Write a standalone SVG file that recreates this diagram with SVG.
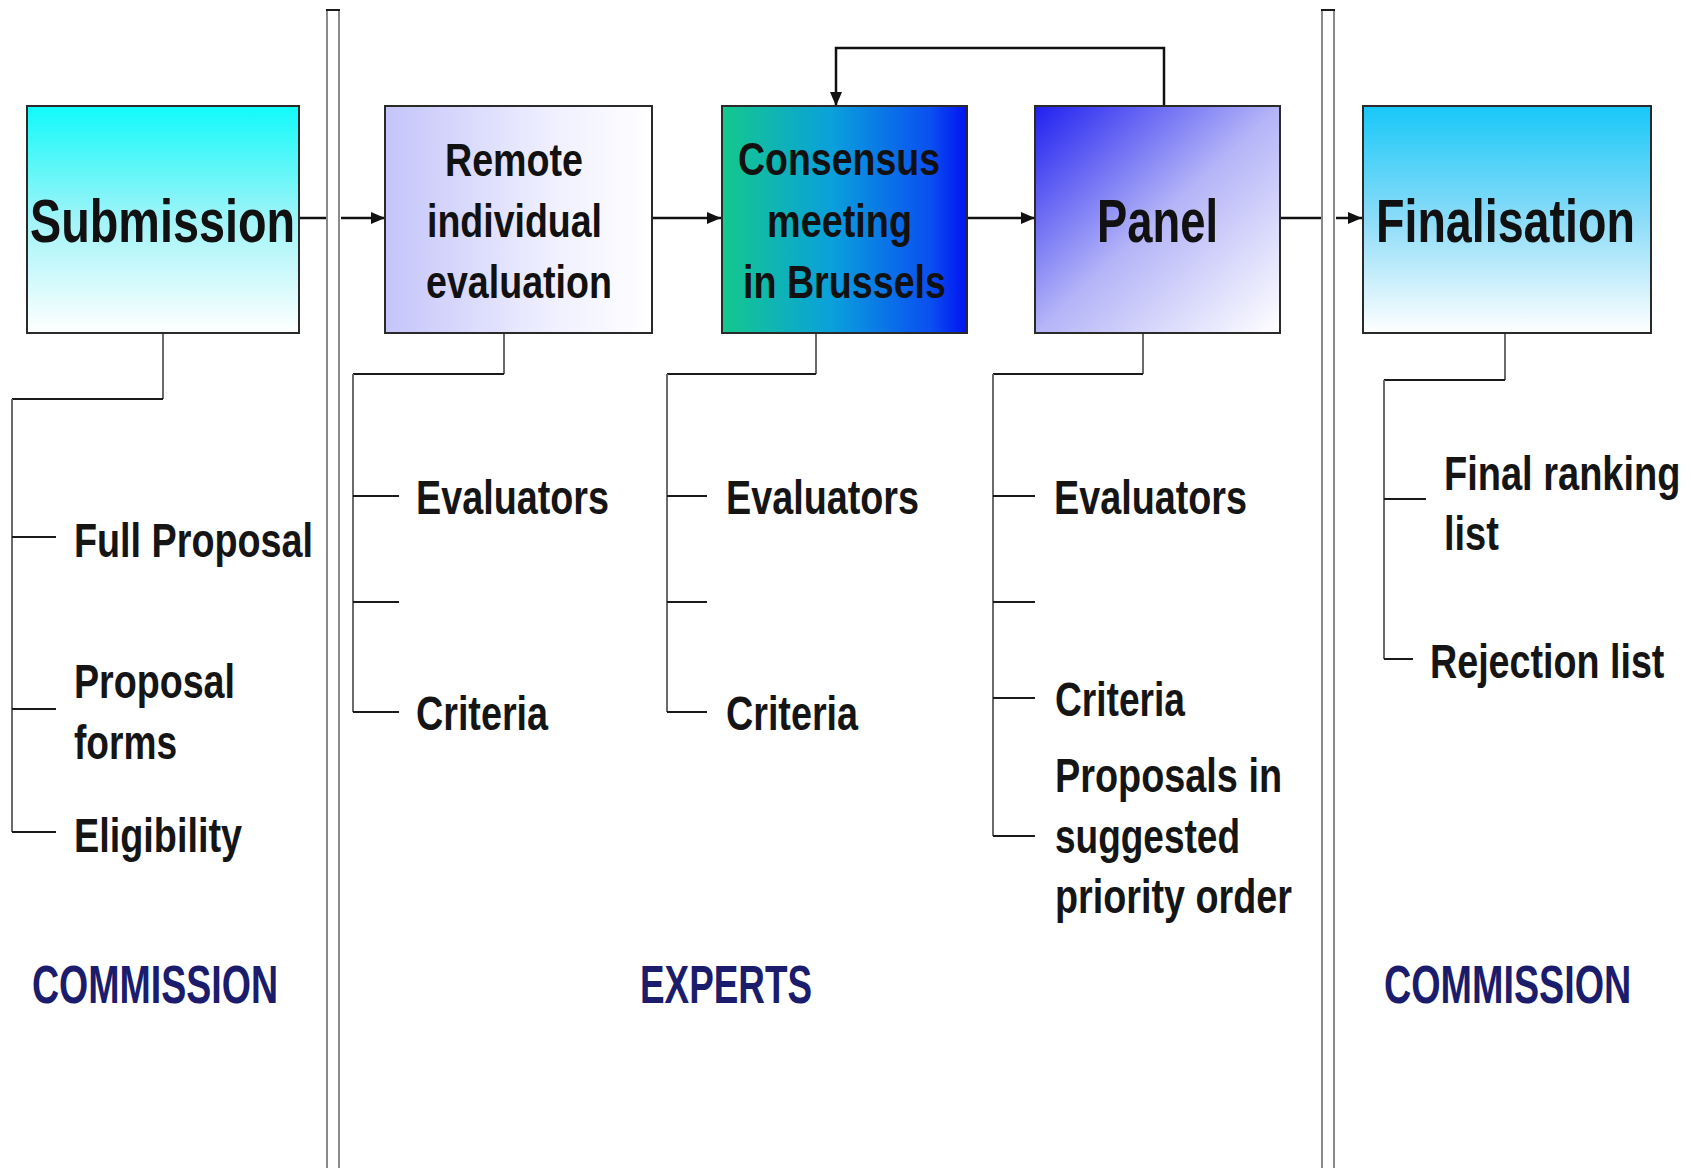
<svg xmlns="http://www.w3.org/2000/svg" width="1691" height="1168" viewBox="0 0 1691 1168">
<style>
.box{stroke:#2a2a2a;stroke-width:2}
.bt{font-family:"Liberation Sans",Arial,sans-serif;font-weight:bold;fill:#111}
.big{font-size:61px}
.mid{font-size:47px}
.it{font-family:"Liberation Sans",Arial,sans-serif;font-weight:bold;font-size:48px;fill:#151515}
.lab{font-family:"Liberation Sans",Arial,sans-serif;font-weight:bold;font-size:53px;fill:#1c1c6c}
.v{stroke:#6a6a6a;stroke-width:2;fill:none}
.h{stroke:#1a1a1a;stroke-width:2;fill:none}
.div{stroke:#8a8a8a;stroke-width:2;fill:none}
.arr{stroke:#111;stroke-width:2.5;fill:none}
</style>
<defs>
<marker id="ah" viewBox="0 0 14 12" refX="14" refY="6" markerWidth="14" markerHeight="12" markerUnits="userSpaceOnUse" orient="auto">
<path d="M0,0 L14,6 L0,12 Z" fill="#111"/>
</marker>
<linearGradient id="gSub" x1="0" y1="0" x2="0" y2="1">
<stop offset="0" stop-color="#10fafa"/><stop offset="0.5" stop-color="#a0f4f8"/><stop offset="1" stop-color="#ffffff"/>
</linearGradient>
<linearGradient id="gFin" x1="0" y1="0" x2="0" y2="1">
<stop offset="0" stop-color="#18c8f8"/><stop offset="0.5" stop-color="#8cdcf8"/><stop offset="1" stop-color="#ffffff"/>
</linearGradient>
<linearGradient id="gRem" x1="0" y1="0" x2="1" y2="0">
<stop offset="0" stop-color="#c4c4fa"/><stop offset="0.6" stop-color="#eeeeff"/><stop offset="1" stop-color="#ffffff"/>
</linearGradient>
<linearGradient id="gCon" x1="0" y1="0" x2="1" y2="0">
<stop offset="0" stop-color="#14c88c"/><stop offset="0.45" stop-color="#0aa0dc"/><stop offset="0.85" stop-color="#0a50f0"/><stop offset="1" stop-color="#0012f0"/>
</linearGradient>
<linearGradient id="gPan" x1="0" y1="0" x2="1" y2="1">
<stop offset="0" stop-color="#2020f0"/><stop offset="0.5" stop-color="#b4b4f8"/><stop offset="1" stop-color="#ffffff"/>
</linearGradient>
</defs>
<rect x="0" y="0" width="1691" height="1168" fill="#ffffff"/>

<g id="dividers">
<path class="div" d="M327,10 V1168 M339,10 V1168"/>
<path class="h" d="M326,10 H340"/>
<path class="div" d="M1322,10 V1168 M1334,10 V1168"/>
<path class="h" d="M1321,10 H1335"/>
</g>

<g id="connectors">
<path class="arr" d="M300,218 H326"/>
<path class="arr" d="M341,218 H385" marker-end="url(#ah)"/>
<path class="arr" d="M652,218 H721" marker-end="url(#ah)"/>
<path class="arr" d="M967,218 H1035" marker-end="url(#ah)"/>
<path class="arr" d="M1280,218 H1321"/>
<path class="arr" d="M1336,218 H1362" marker-end="url(#ah)"/>
<path class="arr" d="M1164,106 V48 H836 V106" marker-end="url(#ah)"/>
<path class="v" d="M163,334 V399"/>
<path class="h" d="M163,399 H12"/>
<path class="v" d="M12,399 V832"/>
<path class="h" d="M12,537 H56 M12,709 H56 M12,832 H56"/>
<path class="v" d="M504,334 V374"/>
<path class="h" d="M504,374 H353"/>
<path class="v" d="M353,374 V712"/>
<path class="h" d="M353,496 H399 M353,602 H399 M353,712 H399"/>
<path class="v" d="M816,334 V374"/>
<path class="h" d="M816,374 H667"/>
<path class="v" d="M667,374 V712"/>
<path class="h" d="M667,496 H707 M667,602 H707 M667,712 H707"/>
<path class="v" d="M1143,334 V374"/>
<path class="h" d="M1143,374 H993"/>
<path class="v" d="M993,374 V836"/>
<path class="h" d="M993,496 H1035 M993,602 H1035 M993,698 H1035 M993,836 H1035"/>
<path class="v" d="M1505,334 V380"/>
<path class="h" d="M1505,380 H1384"/>
<path class="v" d="M1384,380 V659"/>
<path class="h" d="M1384,499 H1426 M1384,659 H1413"/>
</g>

<g id="submission">
<rect class="box" x="27" y="106" width="272" height="227" fill="url(#gSub)"/>
<text class="bt big" x="30" y="242" textLength="265" lengthAdjust="spacingAndGlyphs">Submission</text>
</g>
<g id="remote">
<rect class="box" x="385" y="106" width="267" height="227" fill="url(#gRem)"/>
<text class="bt mid" x="445" y="176" textLength="138" lengthAdjust="spacingAndGlyphs">Remote</text>
<text class="bt mid" x="427" y="237" textLength="175" lengthAdjust="spacingAndGlyphs">individual</text>
<text class="bt mid" x="426" y="298" textLength="186" lengthAdjust="spacingAndGlyphs">evaluation</text>
</g>
<g id="consensus">
<rect class="box" x="722" y="106" width="245" height="227" fill="url(#gCon)"/>
<text class="bt mid" x="738" y="175" textLength="202" lengthAdjust="spacingAndGlyphs">Consensus</text>
<text class="bt mid" x="767" y="237" textLength="145" lengthAdjust="spacingAndGlyphs">meeting</text>
<text class="bt mid" x="743" y="298" textLength="203" lengthAdjust="spacingAndGlyphs">in Brussels</text>
</g>
<g id="panel">
<rect class="box" x="1035" y="106" width="245" height="227" fill="url(#gPan)"/>
<text class="bt big" x="1097" y="242" textLength="121" lengthAdjust="spacingAndGlyphs">Panel</text>
</g>
<g id="finalisation">
<rect class="box" x="1363" y="106" width="288" height="227" fill="url(#gFin)"/>
<text class="bt big" transform="translate(1376,242) scale(0.764,1)" x="0" y="0">Finalisation</text>
</g>

<g id="submission-items">
<text class="it" x="74" y="557" textLength="239" lengthAdjust="spacingAndGlyphs">Full Proposal</text>
<text class="it" x="74" y="698" textLength="161" lengthAdjust="spacingAndGlyphs">Proposal</text>
<text class="it" x="74" y="759" textLength="103" lengthAdjust="spacingAndGlyphs">forms</text>
<text class="it" x="74" y="852" textLength="168" lengthAdjust="spacingAndGlyphs">Eligibility</text>
</g>
<g id="remote-items">
<text class="it" x="416" y="514" textLength="193" lengthAdjust="spacingAndGlyphs">Evaluators</text>
<text class="it" x="416" y="730" textLength="132" lengthAdjust="spacingAndGlyphs">Criteria</text>
</g>
<g id="consensus-items">
<text class="it" x="726" y="514" textLength="193" lengthAdjust="spacingAndGlyphs">Evaluators</text>
<text class="it" x="726" y="730" textLength="132" lengthAdjust="spacingAndGlyphs">Criteria</text>
</g>
<g id="panel-items">
<text class="it" x="1054" y="514" textLength="193" lengthAdjust="spacingAndGlyphs">Evaluators</text>
<text class="it" x="1055" y="716" textLength="130" lengthAdjust="spacingAndGlyphs">Criteria</text>
<text class="it" x="1055" y="792" textLength="227" lengthAdjust="spacingAndGlyphs">Proposals in</text>
<text class="it" x="1055" y="853" textLength="185" lengthAdjust="spacingAndGlyphs">suggested</text>
<text class="it" x="1055" y="913" textLength="237" lengthAdjust="spacingAndGlyphs">priority order</text>
</g>
<g id="finalisation-items">
<text class="it" transform="translate(1444,490) scale(0.792,1)" x="0" y="0">Final ranking</text>
<text class="it" transform="translate(1444,550) scale(0.792,1)" x="0" y="0">list</text>
<text class="it" transform="translate(1430,678) scale(0.785,1)" x="0" y="0">Rejection list</text>
</g>

<g id="labels">
<text class="lab" x="32" y="1003" textLength="246" lengthAdjust="spacingAndGlyphs">COMMISSION</text>
<text class="lab" x="640" y="1003" textLength="172" lengthAdjust="spacingAndGlyphs">EXPERTS</text>
<text class="lab" transform="translate(1384,1003) scale(0.712,1)" x="0" y="0">COMMISSION</text>
</g>
</svg>
